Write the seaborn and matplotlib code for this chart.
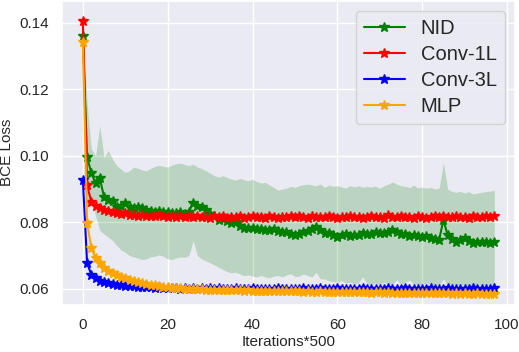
import numpy as np
import pandas as pd
import matplotlib
matplotlib.use("Agg")
import matplotlib.pyplot as plt
import seaborn as sns

# Training curves (BCE loss, logged every 500 iterations)
nid = [
    0.1360, 0.0996, 0.0948, 0.0918, 0.0932, 0.0876, 0.0868, 0.0865, 0.0846, 0.0850,
    0.0858, 0.0845, 0.0843, 0.0845, 0.0842, 0.0838, 0.0833, 0.0831, 0.0833, 0.0831,
    0.0832, 0.0829, 0.0828, 0.0830, 0.0826, 0.0832, 0.0858, 0.0850, 0.0846, 0.0837,
    0.0826, 0.0818, 0.0807, 0.0810, 0.0803, 0.0798, 0.0800, 0.0790, 0.0783, 0.0784,
    0.0782, 0.0780, 0.0781, 0.0778, 0.0777, 0.0779, 0.0775, 0.0770, 0.0772, 0.0765,
    0.0762, 0.0764, 0.0770, 0.0773, 0.0780, 0.0786, 0.0778, 0.0768, 0.0768, 0.0762,
    0.0756, 0.0762, 0.0765, 0.0760, 0.0762, 0.0762, 0.0767, 0.0765, 0.0766, 0.0771,
    0.0768, 0.0769, 0.0772, 0.0778, 0.0770, 0.0766, 0.0764, 0.0760, 0.0763, 0.0760,
    0.0756, 0.0760, 0.0752, 0.0750, 0.0747, 0.0807, 0.0762, 0.0750, 0.0741, 0.0748,
    0.0753, 0.0745, 0.0738, 0.0742, 0.0740, 0.0741, 0.0739, 0.0740,
]
nid_upper = [
    0.1370, 0.1157, 0.1020, 0.1000, 0.1090, 0.0995, 0.1016, 0.0990, 0.0970, 0.0960,
    0.0950, 0.0955, 0.0966, 0.0962, 0.0957, 0.0955, 0.0962, 0.0968, 0.0971, 0.0968,
    0.0966, 0.0972, 0.0976, 0.0978, 0.0974, 0.0970, 0.0975, 0.0966, 0.0962, 0.0955,
    0.0948, 0.0940, 0.0936, 0.0940, 0.0935, 0.0930, 0.0927, 0.0932, 0.0928, 0.0925,
    0.0930, 0.0922, 0.0918, 0.0920, 0.0912, 0.0905, 0.0897, 0.0900, 0.0903, 0.0908,
    0.0905, 0.0910, 0.0913, 0.0915, 0.0912, 0.0910, 0.0915, 0.0905, 0.0912, 0.0908,
    0.0910, 0.0906, 0.0903, 0.0910, 0.0906, 0.0910, 0.0905, 0.0908, 0.0906, 0.0909,
    0.0902, 0.0910, 0.0915, 0.0921, 0.0915, 0.0910, 0.0908, 0.0904, 0.0912, 0.0903,
    0.0906, 0.0902, 0.0905, 0.0900, 0.0903, 0.0980, 0.0900, 0.0893, 0.0890, 0.0893,
    0.0888, 0.0892, 0.0885, 0.0888, 0.0890, 0.0892, 0.0894, 0.0896,
]
nid_lower = [
    0.1350, 0.0840, 0.0870, 0.0820, 0.0775, 0.0765, 0.0755, 0.0745, 0.0730, 0.0717,
    0.0710, 0.0700, 0.0696, 0.0692, 0.0688, 0.0690, 0.0696, 0.0698, 0.0702, 0.0698,
    0.0690, 0.0688, 0.0693, 0.0696, 0.0695, 0.0700, 0.0745, 0.0700, 0.0690, 0.0684,
    0.0678, 0.0672, 0.0665, 0.0658, 0.0652, 0.0648, 0.0650, 0.0645, 0.0640, 0.0642,
    0.0638, 0.0636, 0.0640, 0.0636, 0.0633, 0.0638, 0.0640, 0.0636, 0.0642, 0.0645,
    0.0638, 0.0638, 0.0645, 0.0640, 0.0636, 0.0650, 0.0630, 0.0630, 0.0624, 0.0622,
    0.0620, 0.0625, 0.0618, 0.0620, 0.0616, 0.0618, 0.0636, 0.0615, 0.0612, 0.0618,
    0.0613, 0.0620, 0.0615, 0.0613, 0.0627, 0.0614, 0.0620, 0.0626, 0.0615, 0.0612,
    0.0614, 0.0618, 0.0612, 0.0615, 0.0611, 0.0630, 0.0612, 0.0614, 0.0611, 0.0613,
    0.0610, 0.0612, 0.0609, 0.0611, 0.0610, 0.0612, 0.0608, 0.0610,
]
conv1l = [
    0.1405, 0.0912, 0.0861, 0.0850, 0.0843, 0.0838, 0.0835, 0.0830, 0.0828, 0.0826,
    0.0827, 0.0822, 0.0823, 0.0820, 0.0822, 0.0819, 0.0820, 0.0818, 0.0821, 0.0818,
    0.0817, 0.0819, 0.0816, 0.0818, 0.0815, 0.0820, 0.0816, 0.0818, 0.0815, 0.0817,
    0.0814, 0.0818, 0.0815, 0.0819, 0.0814, 0.0817, 0.0815, 0.0818, 0.0814, 0.0816,
    0.0819, 0.0815, 0.0817, 0.0814, 0.0818, 0.0815, 0.0813, 0.0817, 0.0815, 0.0819,
    0.0815, 0.0818, 0.0816, 0.0814, 0.0818, 0.0815, 0.0817, 0.0815, 0.0818, 0.0816,
    0.0814, 0.0817, 0.0815, 0.0818, 0.0815, 0.0817, 0.0814, 0.0816, 0.0819, 0.0815,
    0.0817, 0.0814, 0.0821, 0.0816, 0.0815, 0.0818, 0.0815, 0.0817, 0.0814, 0.0818,
    0.0816, 0.0814, 0.0817, 0.0819, 0.0815, 0.0820, 0.0817, 0.0815, 0.0818, 0.0815,
    0.0817, 0.0814, 0.0818, 0.0816, 0.0815, 0.0818, 0.0816, 0.0818,
]
conv3l = [
    0.0927, 0.0678, 0.0642, 0.0632, 0.0625, 0.0621, 0.0617, 0.0615, 0.0613, 0.0612,
    0.0609, 0.0608, 0.0609, 0.0606, 0.0607, 0.0605, 0.0606, 0.0604, 0.0605, 0.0603,
    0.0604, 0.0602, 0.0603, 0.0601, 0.0603, 0.0601, 0.0602, 0.0600, 0.0602, 0.0601,
    0.0603, 0.0600, 0.0602, 0.0600, 0.0601, 0.0599, 0.0602, 0.0600, 0.0601, 0.0599,
    0.0602, 0.0600, 0.0601, 0.0599, 0.0601, 0.0600, 0.0602, 0.0599, 0.0601, 0.0600,
    0.0601, 0.0599, 0.0602, 0.0600, 0.0601, 0.0600, 0.0602, 0.0599, 0.0601, 0.0600,
    0.0602, 0.0600, 0.0601, 0.0599, 0.0601, 0.0600, 0.0602, 0.0600, 0.0601, 0.0599,
    0.0601, 0.0600, 0.0602, 0.0600, 0.0601, 0.0600, 0.0602, 0.0599, 0.0601, 0.0600,
    0.0601, 0.0599, 0.0602, 0.0600, 0.0601, 0.0600, 0.0602, 0.0600, 0.0601, 0.0599,
    0.0601, 0.0600, 0.0602, 0.0600, 0.0601, 0.0600, 0.0601, 0.0602,
]
mlp = [
    0.1342, 0.0798, 0.0723, 0.0693, 0.0678, 0.0663, 0.0655, 0.0648, 0.0642, 0.0637,
    0.0632, 0.0628, 0.0624, 0.0621, 0.0618, 0.0615, 0.0613, 0.0611, 0.0609, 0.0607,
    0.0606, 0.0604, 0.0603, 0.0602, 0.0601, 0.0600, 0.0600, 0.0599, 0.0599, 0.0598,
    0.0598, 0.0597, 0.0598, 0.0597, 0.0596, 0.0597, 0.0596, 0.0596, 0.0595, 0.0596,
    0.0595, 0.0595, 0.0594, 0.0595, 0.0594, 0.0594, 0.0593, 0.0594, 0.0593, 0.0593,
    0.0594, 0.0593, 0.0592, 0.0593, 0.0592, 0.0592, 0.0593, 0.0592, 0.0591, 0.0592,
    0.0591, 0.0591, 0.0592, 0.0590, 0.0591, 0.0590, 0.0591, 0.0590, 0.0589, 0.0590,
    0.0590, 0.0589, 0.0590, 0.0589, 0.0589, 0.0588, 0.0589, 0.0588, 0.0589, 0.0588,
    0.0588, 0.0587, 0.0588, 0.0587, 0.0588, 0.0587, 0.0587, 0.0586, 0.0587, 0.0586,
    0.0587, 0.0586, 0.0586, 0.0587, 0.0586, 0.0586, 0.0585, 0.0586,
]
steps = np.arange(len(nid))

series_names = ["NID", "Conv-1L", "Conv-3L", "MLP"]
series_values = [nid, conv1l, conv3l, mlp]
series_colors = ["green", "red", "blue", "orange"]

sns.set_theme(style="darkgrid")
plt.rcParams["font.family"] = ["Liberation Sans", "DejaVu Sans"]

fig, ax = plt.subplots(figsize=(5.19, 3.52), dpi=100)
fig.subplots_adjust(left=0.12, right=0.992, top=0.998, bottom=0.134)

# spread of the NID runs
ax.fill_between(steps, nid_lower, nid_upper, color="green", alpha=0.2, linewidth=0)

for name, vals, col in zip(series_names, series_values, series_colors):
    df = pd.DataFrame({"step": steps, "loss": vals})
    sns.lineplot(data=df, x="step", y="loss", ax=ax, color=col, label=name,
                 marker="*", markersize=7, markeredgecolor=col,
                 markeredgewidth=1.0, linewidth=1.5)

ax.set_xlim(-4.85, 101.85)
ax.set_ylim(0.0552, 0.1466)
ax.set_xticks([0, 20, 40, 60, 80, 100])
ax.set_yticks([0.06, 0.08, 0.10, 0.12, 0.14])
ax.set_yticklabels(["0.06", "0.08", "0.10", "0.12", "0.14"])
ax.tick_params(labelsize=11)
ax.set_xlabel("Iterations*500", fontsize=11, labelpad=2)
ax.set_ylabel("BCE Loss", fontsize=11)

ax.legend(loc="upper right", fontsize=14.5, labelspacing=0.35)

fig.savefig("out.png", dpi=100)
